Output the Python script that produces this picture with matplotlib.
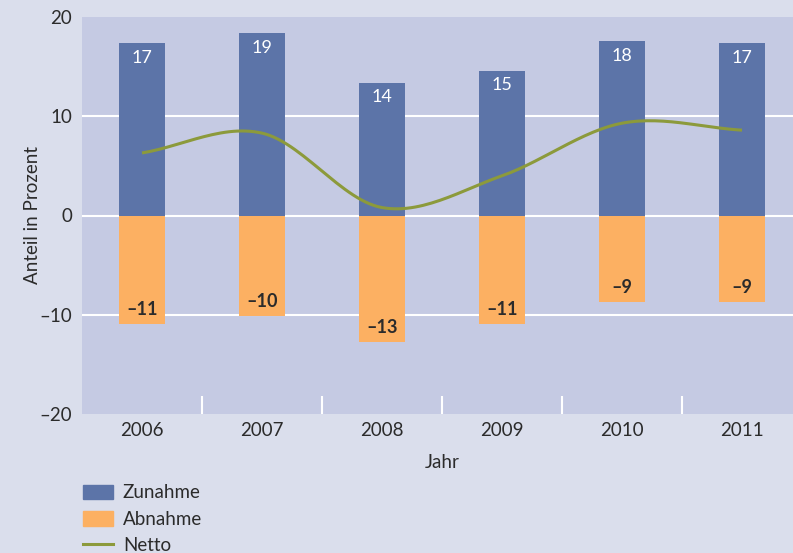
import numpy as np
import matplotlib
matplotlib.use("Agg")
import matplotlib.pyplot as plt
from matplotlib.patches import Patch
from matplotlib.lines import Line2D

plt.rcParams['font.family'] = ['Lato', 'DejaVu Sans']

jahre = ['2006', '2007', '2008', '2009', '2010', '2011']
zunahme = [17.4, 18.4, 13.4, 14.6, 17.6, 17.4]
abnahme = [-10.9, -10.1, -12.7, -10.9, -8.7, -8.7]
netto = [6.3, 8.3, 0.8, 4.0, 9.3, 8.6]
zunahme_labels = ['17', '19', '14', '15', '18', '17']
abnahme_labels = ['\u201311', '\u201310', '\u201313', '\u201311', '\u20139', '\u20139']

BG = '#dadeec'
PANEL = '#c5cae3'
BLUE = '#5c74a8'
ORANGE = '#fcb062'
GREEN = '#8c9a3b'
TEXT = '#2b2b2b'


def smooth(x, y, n=30):
    # Catmull-Rom style smoothing for the drawn line
    x = np.asarray(x, float)
    y = np.asarray(y, float)
    m = np.zeros_like(y)
    m[1:-1] = (y[2:] - y[:-2]) / (x[2:] - x[:-2])
    m[0] = (y[1] - y[0]) / (x[1] - x[0])
    m[-1] = (y[-1] - y[-2]) / (x[-1] - x[-2])
    xs, ys = [], []
    for i in range(len(x) - 1):
        h = x[i + 1] - x[i]
        t = np.linspace(0, 1, n)
        h00 = 2 * t**3 - 3 * t**2 + 1
        h10 = t**3 - 2 * t**2 + t
        h01 = -2 * t**3 + 3 * t**2
        h11 = t**3 - t**2
        xs.append(x[i] + t * h)
        ys.append(h00 * y[i] + h10 * h * m[i] + h01 * y[i + 1] + h11 * h * m[i + 1])
    return np.concatenate(xs), np.concatenate(ys)


fig = plt.figure(figsize=(7.93, 5.53), dpi=100, facecolor=BG)
W, H = 793, 553
ax = fig.add_axes([82 / W, 1 - 414 / H, (793 - 82) / W, (414 - 17) / H])
ax.set_facecolor(PANEL)
for s in ax.spines.values():
    s.set_visible(False)

pos = np.arange(len(jahre))
bw = 0.385
ax.bar(pos, zunahme, bw, color=BLUE, zorder=3)
ax.bar(pos, abnahme, bw, color=ORANGE, zorder=3)

for yv in [10, 0, -10]:
    ax.axhline(yv, color='white', lw=1.5, zorder=1)

lx, ly = smooth(pos, netto)
ax.plot(lx, ly, color=GREEN, lw=2.2, zorder=4, solid_capstyle='butt')

for p, v, t in zip(pos, zunahme, zunahme_labels):
    ax.text(p, v - 1.5, t, color='white', ha='center', va='center', fontsize=13, zorder=5)
for p, v, t in zip(pos, abnahme, abnahme_labels):
    ax.text(p, v + 1.4, t, color=TEXT, ha='center', va='center', fontsize=13,
            fontweight='bold', zorder=5)

ax.set_xlim(-0.5, (793 - 142) / 120)
ax.set_ylim(-20, 20)
ax.set_yticks([20, 10, 0, -10, -20])
ax.set_yticklabels(['20', '10', '0', '\u201310', '\u201320'])
ax.set_xticks(pos)
ax.set_xticklabels(jahre)
ax.set_xticks(pos[:-1] + 0.5, minor=True)
ax.tick_params(axis='y', length=0, pad=7, labelsize=13.5, labelcolor=TEXT)
ax.tick_params(axis='x', which='major', length=0, pad=6, labelsize=13.5, labelcolor=TEXT)
ax.tick_params(axis='x', which='minor', direction='in', length=13, width=1.5,
               color='white', zorder=5)

ax.set_ylabel('Anteil in Prozent', fontsize=13.5, color=TEXT)
ax.yaxis.set_label_coords(-(82 - 41) / (793 - 82), 0.5)
fig.text(442 / W, 1 - 462 / H, 'Jahr', ha='center', va='center', fontsize=13.5, color=TEXT)

handles = [Patch(color=BLUE, label='Zunahme'),
           Patch(color=ORANGE, label='Abnahme'),
           Line2D([0], [0], color=GREEN, lw=2.2, label='Netto')]
fig.legend(handles=handles, loc='upper left', bbox_to_anchor=(75 / W, 1 - 477 / H),
           frameon=False, fontsize=13.5, handlelength=1.65, handleheight=0.8,
           handletextpad=0.5, labelspacing=0.5, labelcolor=TEXT, borderaxespad=0)

fig.savefig('out.png', dpi=100, facecolor=BG)
